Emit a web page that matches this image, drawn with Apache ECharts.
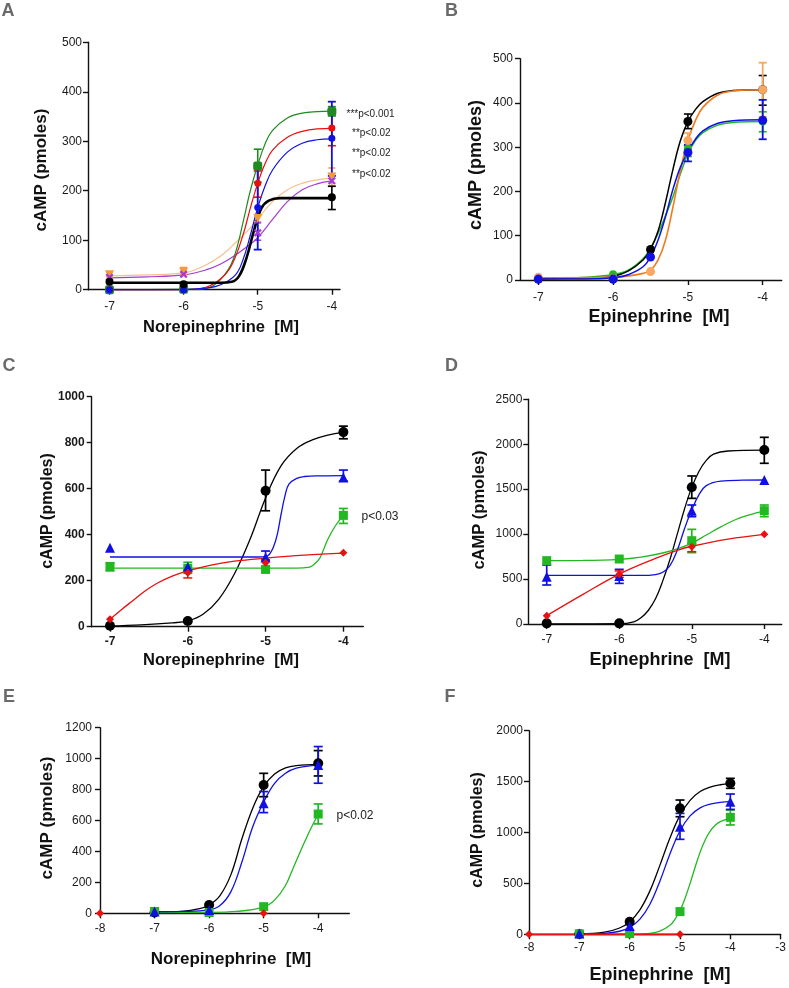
<!DOCTYPE html>
<html>
<head>
<meta charset="utf-8">
<script src="https://cdn.jsdelivr.net/npm/echarts@6/dist/echarts.min.js"></script>
<style>html,body{margin:0;padding:0;background:#fff}#c{width:789px;height:988px}</style>
</head>
<body>
<div id="c"></div>
<script>
// ---------- tick labels ----------
const ticksA_x = [-7, -6, -5, -4];
const ticksE_x = [-8, -7, -6, -5, -4];
const ticksF_x = [-8, -7, -6, -5, -4, -3];

// ---------- Panel A (Norepinephrine) ----------
const A_black_pts = [[-7,16],[-6,11],[-4,187]];
const A_black_err = [[-4,162,209]];
const A_black_fit = [[-7,14],[-5.5,14],[-5.35,16],[-5.25,28],[-5.15,65],[-5.05,120],[-4.95,165],[-4.85,180],[-4.7,185],[-4,185]];
const A_green_pts = [[-7,0],[-6,1],[-5,250],[-4,360]];
const A_green_err = [[-5,217,284],[-4,351,370]];
const A_green_fit = [[-7,0],[-5.8,1],[-5.6,8],[-5.4,40],[-5.3,75],[-5.2,135],[-5.1,200],[-5.0,252],[-4.9,295],[-4.8,322],[-4.6,347],[-4.4,357],[-4.2,360],[-4,361]];
const A_red_pts = [[-7,0],[-6,1],[-5,215],[-4,327]];
const A_red_err = [[-5,187,240],[-4,291,361]];
const A_red_fit = [[-7,0],[-6,0],[-5.7,5],[-5.5,22],[-5.35,50],[-5.2,110],[-5.1,165],[-5.0,215],[-4.9,255],[-4.8,282],[-4.6,308],[-4.4,320],[-4.2,325],[-4,326]];
const A_blue_pts = [[-7,0],[-6,0],[-5,166],[-4,306]];
const A_blue_err = [[-5,81,250],[-4,230,380]];
const A_blue_fit = [[-7,0],[-6,0],[-5.7,3],[-5.5,10],[-5.3,30],[-5.2,60],[-5.1,110],[-5.0,166],[-4.9,210],[-4.8,242],[-4.6,278],[-4.4,296],[-4.2,303],[-4,305]];
const A_orange_pts = [[-7,30],[-6,36],[-5,144],[-4,228]];
const A_orange_err = [[-7,26,36],[-6,31,45],[-5,137,150],[-4,210,246]];
const A_orange_fit = [[-7,28],[-6.5,30],[-6,34],[-5.7,50],[-5.5,68],[-5.3,95],[-5.1,125],[-5.0,143],[-4.8,178],[-4.6,202],[-4.4,215],[-4.2,222],[-4,226]];
const A_purple_pts = [[-7,25],[-6,31],[-5,115],[-4,220]];
const A_purple_err = [[-5,100,135]];
const A_purple_fit = [[-7,24],[-6.5,26],[-6,30],[-5.7,40],[-5.5,52],[-5.3,70],[-5.1,92],[-5.0,105],[-4.8,142],[-4.6,178],[-4.4,202],[-4.2,214],[-4,220]];

// ---------- Panel B (Epinephrine) ----------
const B_black_pts = [[-7,2],[-6,2],[-5.5,69],[-5,358],[-4,430]];
const B_black_err = [[-5,342,375],[-4,395,462]];
const B_black_fit = [[-7,3],[-6.2,5],[-6,8],[-5.8,20],[-5.6,45],[-5.5,69],[-5.4,110],[-5.3,175],[-5.2,250],[-5.1,315],[-5,358],[-4.9,385],[-4.8,403],[-4.6,422],[-4.4,428],[-4,430]];
const B_orange_pts = [[-7,6],[-6,3],[-5.5,19],[-5,315],[-4,430]];
const B_orange_err = [[-5,300,332],[-4,369,491]];
const B_orange_fit = [[-7,5],[-6,6],[-5.8,9],[-5.6,15],[-5.5,22],[-5.4,45],[-5.3,90],[-5.2,165],[-5.1,248],[-5,315],[-4.9,360],[-4.8,390],[-4.6,418],[-4.4,427],[-4,430]];
const B_green_pts = [[-7,3],[-6,13],[-5,297],[-4,358]];
const B_green_err = [[-5,279,304],[-4,335,380]];
const B_green_fit = [[-7,3],[-6.5,5],[-6,12],[-5.8,22],[-5.6,48],[-5.5,72],[-5.4,105],[-5.3,145],[-5.2,188],[-5.1,240],[-5,285],[-4.9,315],[-4.8,333],[-4.6,350],[-4.4,356],[-4,358]];
const B_blue_pts = [[-7,2],[-6,2],[-5.5,52],[-5,288],[-4,361]];
const B_blue_err = [[-5,268,305],[-4,318,407]];
const B_blue_fit = [[-7,2],[-6.2,3],[-6,5],[-5.8,12],[-5.6,30],[-5.5,52],[-5.4,90],[-5.3,143],[-5.2,205],[-5.1,255],[-5,290],[-4.9,318],[-4.8,337],[-4.6,354],[-4.4,360],[-4,362]];

// ---------- Panel C (Norepinephrine) ----------
const C_black_pts = [[-7,4],[-6,25],[-5,591],[-4,846]];
const C_black_err = [[-5,504,681],[-4,817,872]];
const C_black_fit = [[-7,3],[-6.6,8],[-6.2,17],[-6,25],[-5.8,55],[-5.6,120],[-5.4,230],[-5.2,380],[-5.0,560],[-4.8,700],[-4.6,775],[-4.4,812],[-4.2,833],[-4,845]];
const C_blue_pts = [[-7,343],[-6,261],[-5,301],[-4,649]];
const C_blue_err = [[-5,290,329],[-4,633,681]];
const C_blue_fit = [[-7,303],[-5.1,303],[-5,305],[-4.95,315],[-4.9,345],[-4.85,400],[-4.8,490],[-4.75,570],[-4.7,620],[-4.6,645],[-4.5,653],[-4.3,656],[-4,657]];
const C_green_pts = [[-7,261],[-6,254],[-5,249],[-4,484]];
const C_green_err = [[-7,243,278],[-6,232,280],[-5,240,258],[-4,449,514]];
const C_green_fit = [[-7,255],[-4.6,255],[-4.45,258],[-4.4,265],[-4.35,280],[-4.3,300],[-4.2,380],[-4.1,440],[-4,484]];
const C_red_pts = [[-7,32],[-6,235],[-5,278],[-4,322]];
const C_red_err = [[-6,212,245]];
const C_red_fit = [[-7,32],[-6.85,75],[-6.7,115],[-6.55,155],[-6.4,188],[-6.2,220],[-6,243],[-5.7,268],[-5.4,285],[-5,298],[-4.5,311],[-4,320]];

// ---------- Panel D (Epinephrine) ----------
const D_black_pts = [[-7,7],[-6,7],[-5,1521],[-4,1936]];
const D_black_err = [[-5,1398,1647],[-4,1788,2077]];
const D_black_fit = [[-7,0],[-6,3],[-5.8,25],[-5.7,70],[-5.6,150],[-5.5,280],[-5.4,480],[-5.3,720],[-5.2,1000],[-5.1,1280],[-5.0,1520],[-4.9,1700],[-4.8,1820],[-4.7,1890],[-4.5,1925],[-4,1935]];
const D_blue_pts = [[-7,527],[-6,534],[-5,1261],[-4,1602]];
const D_blue_err = [[-7,434,657],[-6,452,608],[-5,1194,1324]];
const D_blue_fit = [[-7,540],[-5.7,540],[-5.5,550],[-5.4,575],[-5.3,650],[-5.2,820],[-5.1,1060],[-5.0,1270],[-4.9,1440],[-4.8,1540],[-4.6,1590],[-4.3,1600],[-4,1602]];
const D_green_pts = [[-7,705],[-6,723],[-5,927],[-4,1261]];
const D_green_err = [[-5,794,1053],[-4,1194,1324]];
const D_green_fit = [[-7,705],[-6.5,707],[-6,720],[-5.7,745],[-5.4,790],[-5.2,835],[-5,900],[-4.8,990],[-4.6,1080],[-4.4,1160],[-4.2,1215],[-4,1255]];
const D_red_pts = [[-7,93],[-6,553],[-5,860],[-4,998]];
const D_red_err = [[-6,520,590],[-5,805,900]];
const D_red_fit = [[-7,93],[-6.5,330],[-6,555],[-5.5,730],[-5.2,820],[-5,865],[-4.5,945],[-4,998]];

// ---------- Panel E (Norepinephrine) ----------
const E_black_pts = [[-7,5],[-6,54],[-5,830],[-4,970]];
const E_black_err = [[-5,754,905],[-4,888,1052]];
const E_black_fit = [[-7,5],[-6.5,12],[-6.2,28],[-6,54],[-5.8,115],[-5.6,250],[-5.4,480],[-5.2,680],[-5,820],[-4.8,900],[-4.6,940],[-4.4,955],[-4,963]];
const E_blue_pts = [[-7,11],[-6,22],[-5,711],[-4,959]];
const E_blue_err = [[-5,651,787],[-4,841,1078]];
const E_blue_fit = [[-7,10],[-6.5,12],[-6,22],[-5.8,50],[-5.6,140],[-5.4,330],[-5.2,560],[-5,720],[-4.8,840],[-4.6,905],[-4.4,938],[-4,958]];
const E_green_pts = [[-7,12],[-6,5],[-5,43],[-4,642]];
const E_green_err = [[-4,578,707]];
const E_green_fit = [[-7,5],[-6,6],[-5.5,12],[-5,40],[-4.8,85],[-4.6,180],[-4.45,300],[-4.2,500],[-4,640]];
const E_red_pts = [[-8,0],[-5,0]];

// ---------- Panel F (Epinephrine) ----------
const F_black_pts = [[-7,3],[-6,124],[-5,1237],[-4,1483]];
const F_black_err = [[-5,1155,1319],[-4,1434,1532]];
const F_black_fit = [[-7,3],[-6.5,21],[-6.2,62],[-6,124],[-5.8,238],[-5.6,424],[-5.4,677],[-5.2,946],[-5,1168],[-4.8,1316],[-4.6,1402],[-4.4,1446],[-4.2,1469],[-4,1480]];
const F_blue_pts = [[-7,8],[-6,82],[-5,1057],[-4,1303]];
const F_blue_err = [[-5,933,1188],[-4,1227,1378]];
const F_blue_fit = [[-7,1],[-6.5,9],[-6.2,30],[-6,68],[-5.8,146],[-5.6,293],[-5.4,521],[-5.2,789],[-5,1017],[-4.8,1163],[-4.6,1242],[-4.4,1279],[-4.2,1296],[-4,1304]];
const F_green_pts = [[-7,5],[-6,7],[-5,223],[-4,1149]];
const F_green_err = [[-4,1074,1221]];
const F_green_fit = [[-7,0],[-6,1],[-5.6,10],[-5.4,31],[-5.2,89],[-5.1,147],[-5,233],[-4.9,353],[-4.8,500],[-4.7,659],[-4.6,807],[-4.5,927],[-4.4,1013],[-4.3,1071],[-4.2,1107],[-4,1142]];
const F_red_pts = [[-8,0],[-5,0]];

// ---------- colours ----------
const BLACK = '#000000', RED = '#e81010', BLUE = '#1010e6', GREEN = '#22b822';
const A_GREEN = '#1f8a1f', A_ORANGE_M = '#f59a3a', A_ORANGE_L = '#f5c08c', A_PURPLE = '#a63ad8';
const B_ORANGE_L = '#f07a1e', B_ORANGE_M = '#f8a860';
const FONT = 'Liberation Sans, Arial, Helvetica, sans-serif';
const XMARK = 'path://M0,2 L2,0 L5,3 L8,0 L10,2 L7,5 L10,8 L8,10 L5,7 L2,10 L0,8 L3,5 Z';

const grids = [
  {left:88, top:42.3, width:252, height:247.4},
  {left:520, top:58.7, width:261.7, height:221.3},
  {left:91.7, top:396.7, width:271.6, height:230},
  {left:528.3, top:399.3, width:253.4, height:224.7},
  {left:100, top:727.7, width:249.3, height:185.6},
  {left:529, top:730.7, width:252, height:203.6}
];
const xCfg = [
  {min:-7.29, max:-3.89, ticks:ticksA_x, margin:11, bold:false},
  {min:-7.245, max:-3.746, ticks:ticksA_x, margin:12, bold:false},
  {min:-7.235, max:-3.744, ticks:ticksA_x, margin:9, bold:true},
  {min:-7.254, max:-3.76, ticks:ticksA_x, margin:10, bold:false},
  {min:-8, max:-3.43, ticks:ticksE_x, margin:9, bold:false},
  {min:-8, max:-3, ticks:ticksF_x, margin:7.5, bold:false}
];
const yCfg = [
  {max:500, interval:100, margin:6, bold:false},
  {max:500, interval:100, margin:7, bold:false},
  {max:1000, interval:200, margin:7, bold:true},
  {max:2500, interval:500, margin:6, bold:false},
  {max:1200, interval:200, margin:8, bold:false},
  {max:2000, interval:500, margin:6, bold:false}
];

const axisLine = {show:true, lineStyle:{color:'#111', width:1.4}};
const axisTick = {show:true, inside:false, length:5, lineStyle:{color:'#111', width:1.4}};
const plain = v => String(v);

const xAxis = xCfg.map((c, i) => ({
  type:'value', gridIndex:i, min:c.min, max:c.max,
  axisLine, splitLine:{show:false},
  axisTick:Object.assign({}, axisTick, {customValues:c.ticks}),
  axisLabel:{customValues:c.ticks, formatter:plain, margin:c.margin, fontSize:12, fontFamily:FONT, color:'#1a1a1a', fontWeight:c.bold?'bold':'normal'}
}));
const yAxis = yCfg.map((c, i) => ({
  type:'value', gridIndex:i, min:0, max:c.max, interval:c.interval,
  axisLine, splitLine:{show:false}, axisTick,
  axisLabel:{formatter:plain, margin:c.margin, fontSize:12, fontFamily:FONT, color:'#1a1a1a', fontWeight:c.bold?'bold':'normal'}
}));

const series = [];
function fit(gi, data, color, width) {
  series.push({type:'line', xAxisIndex:gi, yAxisIndex:gi, data, showSymbol:false, symbol:'none',
    smooth:0.4, clip:false, silent:true,
    lineStyle:{color, width}, z:2});
}
function pts(gi, data, color, symbol, size, rotate) {
  series.push({type:'scatter', xAxisIndex:gi, yAxisIndex:gi, data, symbol, symbolSize:size,
    symbolRotate:rotate||0, clip:false, silent:true, itemStyle:{color, opacity:1}, z:4});
}
function err(gi, data, color, cap, lw) {
  series.push({type:'custom', xAxisIndex:gi, yAxisIndex:gi, data, clip:false, silent:true, z:3,
    encode:{x:0, y:[1,2]},
    renderItem:(params, api) => {
      const x = api.value(0), lo = api.value(1), hi = api.value(2);
      const p1 = api.coord([x, lo]), p2 = api.coord([x, hi]);
      const h = cap / 2, st = {stroke:color, lineWidth:lw};
      return {type:'group', children:[
        {type:'line', shape:{x1:p1[0], y1:p1[1], x2:p2[0], y2:p2[1]}, style:st},
        {type:'line', shape:{x1:p1[0]-h, y1:p1[1], x2:p1[0]+h, y2:p1[1]}, style:st},
        {type:'line', shape:{x1:p2[0]-h, y1:p2[1], x2:p2[0]+h, y2:p2[1]}, style:st}
      ]};
    }});
}

// Panel A
fit(0, A_orange_fit, A_ORANGE_L, 1.2); err(0, A_orange_err, A_ORANGE_M, 7, 1.5); pts(0, A_orange_pts, A_ORANGE_M, 'triangle', 9, 180);
fit(0, A_purple_fit, A_PURPLE, 1.2); err(0, A_purple_err, A_PURPLE, 7, 1.5); pts(0, A_purple_pts, A_PURPLE, XMARK, 8);
fit(0, A_green_fit, A_GREEN, 1.2); err(0, A_green_err, A_GREEN, 8, 1.6); pts(0, A_green_pts, A_GREEN, 'roundRect', 9);
fit(0, A_red_fit, RED, 1.2); err(0, A_red_err, RED, 8, 1.6); pts(0, A_red_pts, RED, 'circle', 7);
fit(0, A_blue_fit, BLUE, 1.2); err(0, A_blue_err, BLUE, 8, 1.8); pts(0, A_blue_pts, BLUE, 'circle', 7);
fit(0, A_black_fit, BLACK, 2.6); err(0, A_black_err, BLACK, 8, 1.6); pts(0, A_black_pts, BLACK, 'circle', 8);

// Panel B
fit(1, B_green_fit, GREEN, 1.5); err(1, B_green_err, GREEN, 8, 1.6); pts(1, B_green_pts, GREEN, 'circle', 8);
fit(1, B_black_fit, BLACK, 1.5); err(1, B_black_err, BLACK, 8, 1.6); pts(1, B_black_pts, BLACK, 'circle', 9);
fit(1, B_orange_fit, B_ORANGE_L, 1.6); err(1, B_orange_err, B_ORANGE_M, 8, 1.8); pts(1, B_orange_pts, B_ORANGE_M, 'circle', 9);
fit(1, B_blue_fit, BLUE, 1.5); err(1, B_blue_err, BLUE, 8, 1.8); pts(1, B_blue_pts, BLUE, 'circle', 9);

// Panels C–F
const groupsCF = [
  [C_black_fit, C_black_err, C_black_pts, C_green_fit, C_green_err, C_green_pts, C_blue_fit, C_blue_err, C_blue_pts, C_red_fit, C_red_err, C_red_pts],
  [D_black_fit, D_black_err, D_black_pts, D_green_fit, D_green_err, D_green_pts, D_blue_fit, D_blue_err, D_blue_pts, D_red_fit, D_red_err, D_red_pts],
  [E_black_fit, E_black_err, E_black_pts, E_green_fit, E_green_err, E_green_pts, E_blue_fit, E_blue_err, E_blue_pts, null, [], E_red_pts],
  [F_black_fit, F_black_err, F_black_pts, F_green_fit, F_green_err, F_green_pts, F_blue_fit, F_blue_err, F_blue_pts, F_red_pts, [], F_red_pts]
];
groupsCF.forEach((g, k) => {
  const gi = k + 2;
  fit(gi, g[0], BLACK, 1.3); err(gi, g[1], BLACK, 9, 1.7); pts(gi, g[2], BLACK, 'circle', 10);
  fit(gi, g[3], GREEN, 1.3); err(gi, g[4], GREEN, 9, 1.7); pts(gi, g[5], GREEN, 'rect', 9);
  fit(gi, g[6], BLUE, 1.3); err(gi, g[7], BLUE, 9, 1.7); pts(gi, g[8], BLUE, 'triangle', 10);
  if (g[9]) fit(gi, g[9], RED, k === 3 ? 1.8 : 1.3);
  if (g[10].length) err(gi, g[10], RED, 9, 1.5);
  pts(gi, g[11], RED, 'diamond', 8);
});

// ---------- text ----------
function txt(x, y, s, size, opts) {
  opts = opts || {};
  return {type:'text', x, y, rotation:opts.rot||0, z:10, silent:true,
    style:{text:s, font:(opts.bold===false?'':'bold ')+size+'px '+FONT, fill:opts.color||'#111',
      textAlign:opts.align||'center', textVerticalAlign:'middle'}};
}
const R = Math.PI / 2;
const graphic = [
  txt(8, 11, 'A', 18, {color:'#6a6a6a'}), txt(451.5, 11, 'B', 18, {color:'#6a6a6a'}),
  txt(9, 366.5, 'C', 18, {color:'#6a6a6a'}), txt(451.5, 366, 'D', 18, {color:'#6a6a6a'}),
  txt(9, 697.5, 'E', 18, {color:'#6a6a6a'}), txt(450, 697.5, 'F', 18, {color:'#6a6a6a'}),
  txt(221, 327, 'Norepinephrine  [M]', 16.5), txt(659, 317, 'Epinephrine  [M]', 18),
  txt(221, 660, 'Norepinephrine  [M]', 16.5), txt(660, 660, 'Epinephrine  [M]', 18),
  txt(231, 959, 'Norepinephrine  [M]', 17), txt(660, 975, 'Epinephrine  [M]', 18),
  txt(41, 170, 'cAMP (pmoles)', 17, {rot:R}), txt(476, 165, 'cAMP (pmoles)', 18, {rot:R}),
  txt(48, 511, 'cAMP (pmoles)', 16, {rot:R}), txt(479, 510, 'cAMP (pmoles)', 16.5, {rot:R}),
  txt(47, 818, 'cAMP (pmoles)', 17, {rot:R}), txt(478, 830, 'cAMP (pmoles)', 16, {rot:R}),
  txt(346.5, 114.5, '***p<0.001', 10, {bold:false, align:'left', color:'#222'}),
  txt(352, 133, '**p<0.02', 10, {bold:false, align:'left', color:'#222'}),
  txt(352, 153, '**p<0.02', 10, {bold:false, align:'left', color:'#222'}),
  txt(352, 174, '**p<0.02', 10, {bold:false, align:'left', color:'#222'}),
  txt(361.5, 517, 'p<0.03', 12, {bold:false, align:'left', color:'#222'}),
  txt(336.5, 816, 'p<0.02', 12, {bold:false, align:'left', color:'#222'})
];

const chart = echarts.init(document.getElementById('c'), null, {renderer:'canvas'});
chart.setOption({animation:false, backgroundColor:'#fff', grid:grids, xAxis, yAxis, series, graphic});
</script>
</body>
</html>
